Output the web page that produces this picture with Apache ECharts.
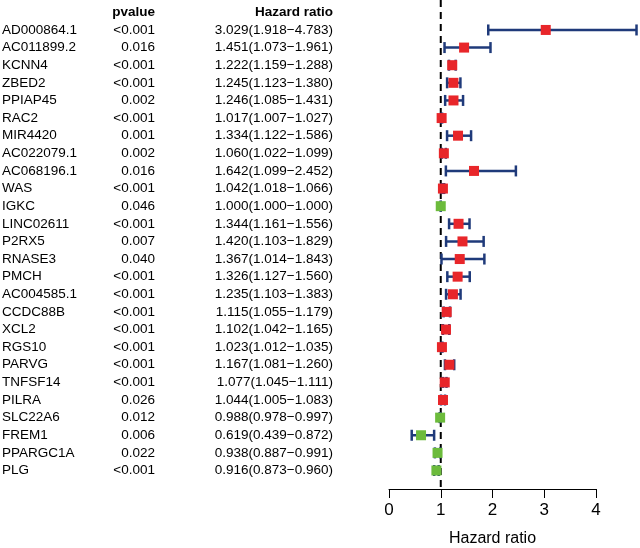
<!DOCTYPE html>
<html><head><meta charset="utf-8">
<script src="https://cdn.jsdelivr.net/npm/echarts@6/dist/echarts.min.js"></script>
<style>html,body{margin:0;padding:0;background:#fff}#c{width:640px;height:548px}</style>
</head><body><div id="c"></div>
<script>
const genes = ["AD000864.1","AC011899.2","KCNN4","ZBED2","PPIAP45","RAC2","MIR4420","AC022079.1","AC068196.1","WAS","IGKC","LINC02611","P2RX5","RNASE3","PMCH","AC004585.1","CCDC88B","XCL2","RGS10","PARVG","TNFSF14","PILRA","SLC22A6","FREM1","PPARGC1A","PLG"];
const pvalues = ["<0.001","0.016","<0.001","<0.001","0.002","<0.001","0.001","0.002","0.016","<0.001","0.046","<0.001","0.007","0.040","<0.001","<0.001","<0.001","<0.001","<0.001","<0.001","<0.001","0.026","0.012","0.006","0.022","<0.001"];
const hr    = [3.029,1.451,1.222,1.245,1.246,1.017,1.334,1.060,1.642,1.042,1.000,1.344,1.420,1.367,1.326,1.235,1.115,1.102,1.023,1.167,1.077,1.044,0.988,0.619,0.938,0.916];
const lower = [1.918,1.073,1.159,1.123,1.085,1.007,1.122,1.022,1.099,1.018,1.000,1.161,1.103,1.014,1.127,1.103,1.055,1.042,1.012,1.081,1.045,1.005,0.978,0.439,0.887,0.873];
const upper = [4.783,1.961,1.288,1.380,1.431,1.027,1.586,1.099,2.452,1.066,1.000,1.556,1.829,1.843,1.560,1.383,1.179,1.165,1.035,1.260,1.111,1.083,0.997,0.872,0.991,0.960];
const xTicks = [0,1,2,3,4];

const FONT = "Liberation Sans, Arial, Helvetica, sans-serif";
const RED = "#E8262A", GREEN = "#6CBB3C", NAVY = "#1F3A7A";
const Y_MIN = -1.70, Y_MAX = 26.05;

const rows = genes.map((g,i)=>[hr[i], i, lower[i], upper[i]]);

const chart = echarts.init(document.getElementById('c'), null, {renderer:'canvas'});
chart.setOption({
  animation:false,
  grid:{left:389, right:44, top:0, bottom:59, containLabel:false, outerBoundsMode:'none'},
  xAxis:{type:'value', min:xTicks[0], max:xTicks[xTicks.length-1], interval:1, position:'bottom',
    axisLine:{show:true, onZero:false, lineStyle:{color:'#000', width:1}},
    axisTick:{show:true, length:9, lineStyle:{color:'#000', width:1}},
    axisLabel:{fontSize:17, color:'#000', fontFamily:FONT, margin:13},
    splitLine:{show:false},
    name:'Hazard ratio', nameLocation:'middle', nameGap:42,
    nameTextStyle:{fontSize:16, color:'#000', fontFamily:FONT}},
  yAxis:{type:'value', inverse:true, min:Y_MIN, max:Y_MAX, show:false},
  series:[
    {type:'line', data:[[1,Y_MIN],[1,Y_MAX]], symbol:'none',
      lineStyle:{color:'#000', width:2, type:[7,5]}, z:1},
    {type:'custom', clip:false, z:3, data:rows,
      renderItem:function(params, api){
        const i = api.value(1);
        const c = api.coord([api.value(0), i]);
        const l = api.coord([api.value(2), i]);
        const u = api.coord([api.value(3), i]);
        const isRisk = api.value(0) > 1;
        const ch = 5.5, s = 10;
        return {type:'group', children:[
          {type:'line', shape:{x1:l[0], y1:c[1], x2:u[0], y2:c[1]}, style:{stroke:NAVY, lineWidth:2.5}},
          {type:'line', shape:{x1:l[0], y1:c[1]-ch, x2:l[0], y2:c[1]+ch}, style:{stroke:NAVY, lineWidth:2.5}},
          {type:'line', shape:{x1:u[0], y1:c[1]-ch, x2:u[0], y2:c[1]+ch}, style:{stroke:NAVY, lineWidth:2.5}},
          {type:'rect', shape:{x:c[0]-s/2, y:c[1]-s/2, width:s, height:s}, style:{fill:isRisk?RED:GREEN}}
        ]};
      }},
    {type:'custom', clip:false, z:4, data:rows,
      renderItem:function(params, api){
        const i = api.value(1);
        const y = api.coord([0, i])[1];
        const idx = params.dataIndex;
        const txt = hr[idx].toFixed(3)+'('+lower[idx].toFixed(3)+'\u2212'+upper[idx].toFixed(3)+')';
        const st = {fontSize:13.5, fontFamily:FONT, fill:'#000', textVerticalAlign:'middle'};
        const children = [
          {type:'text', x:2, y:y, style:Object.assign({text:genes[idx], textAlign:'left'}, st)},
          {type:'text', x:155, y:y, style:Object.assign({text:pvalues[idx], textAlign:'right'}, st)},
          {type:'text', x:333, y:y, style:Object.assign({text:txt, textAlign:'right'}, st)}
        ];
        if (idx === 0) {
          const yh = api.coord([0, -1])[1];
          const hs = {fontSize:13.5, fontFamily:FONT, fontWeight:'bold', fill:'#000', textVerticalAlign:'middle'};
          children.push({type:'text', x:155, y:yh, style:Object.assign({text:'pvalue', textAlign:'right'}, hs)});
          children.push({type:'text', x:333, y:yh, style:Object.assign({text:'Hazard ratio', textAlign:'right'}, hs)});
        }
        return {type:'group', children:children};
      }}
  ]
});
</script></body></html>
